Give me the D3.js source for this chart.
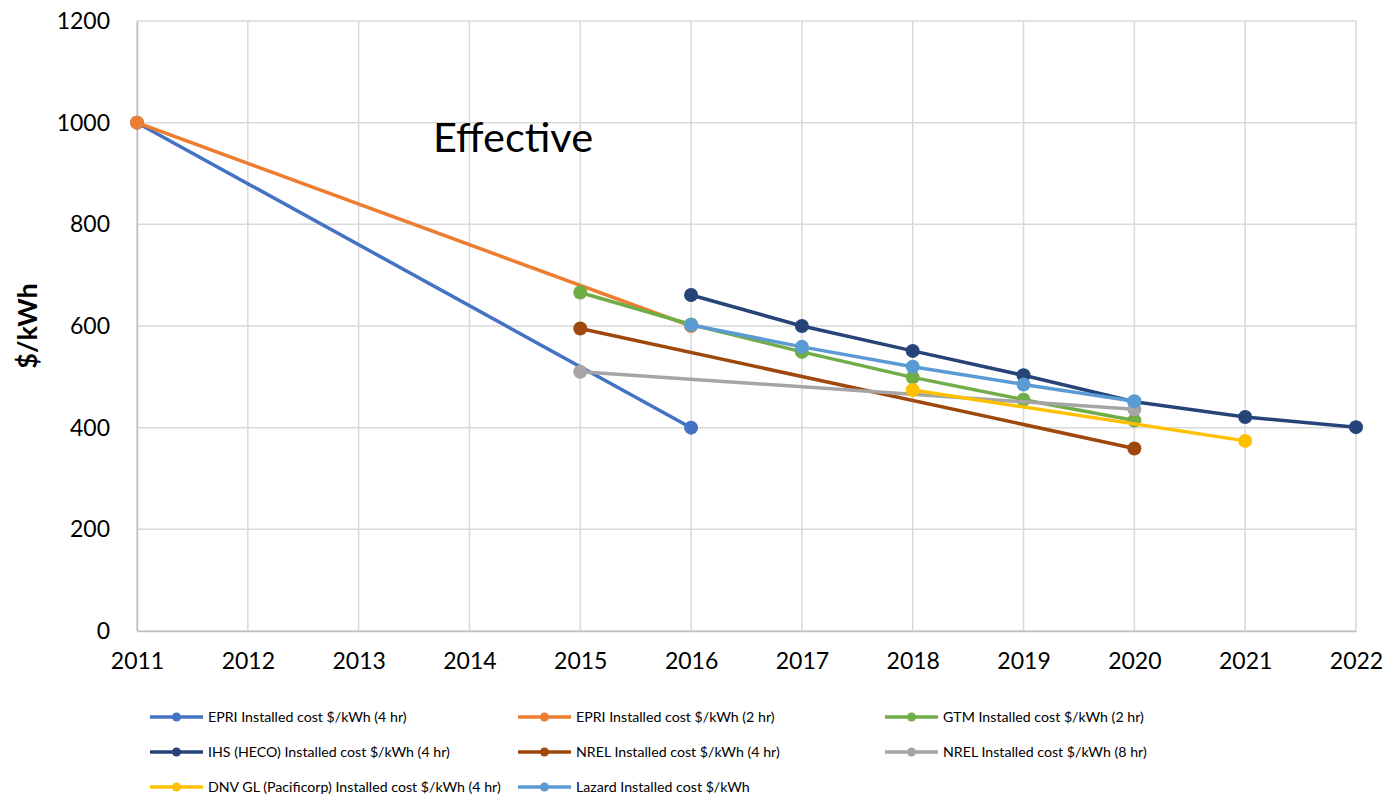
<!DOCTYPE html>
<html><head><meta charset="utf-8">
<script src="https://cdn.jsdelivr.net/npm/d3@7/dist/d3.min.js"></script>
<style>body{margin:0;background:#fff;} svg{display:block;}</style>
</head><body>
<svg id="chart" width="1386" height="797"></svg>
<script>
const years = [2011,2012,2013,2014,2015,2016,2017,2018,2019,2020,2021,2022];
const yTicks = [0,200,400,600,800,1000,1200];
const seriesNames = [
  "EPRI Installed cost $/kWh (4 hr)",
  "EPRI Installed cost $/kWh (2 hr)",
  "GTM Installed cost $/kWh (2 hr)",
  "IHS (HECO) Installed cost $/kWh (4 hr)",
  "NREL Installed cost $/kWh (4 hr)",
  "NREL Installed cost $/kWh (8 hr)",
  "DNV GL (Pacificorp) Installed cost $/kWh (4 hr)",
  "Lazard Installed cost $/kWh"
];
const seriesColors = ["#4472C4","#ED7D31","#70AD47","#264478","#9E480E","#A5A5A5","#FFC000","#5B9BD5"];
const epri4 = [[2011,1000],[2016,400]];
const epri2 = [[2011,1000],[2016,600]];
const gtm2 = [[2015,666],[2016,603],[2017,549],[2018,499],[2019,455],[2020,414]];
const ihs4 = [[2016,661],[2017,600],[2018,551],[2019,503],[2020,451],[2021,421],[2022,401]];
const nrel4 = [[2015,595],[2020,359]];
const nrel8 = [[2015,510],[2020,436]];
const dnv4 = [[2018,474],[2021,374]];
const lazard = [[2016,602],[2017,559],[2018,520],[2019,485],[2020,452]];
const seriesData = [epri4,epri2,gtm2,ihs4,nrel4,nrel8,dnv4,lazard];
const annotation = "Effective";
const yLabel = "$/kWh";

const svg = d3.select("#chart");
const font = "Lato, 'Open Sans', sans-serif";
const x = d3.scaleLinear().domain([2011,2022]).range([137,1356]);
const y = d3.scaleLinear().domain([0,1200]).range([631,21]);

// gridlines
const g = svg.append("g");
g.selectAll(".hg").data(yTicks).join("line")
  .attr("x1",x(2011)).attr("x2",x(2022)).attr("y1",d=>y(d)).attr("y2",d=>y(d))
  .attr("stroke","#D9D9D9").attr("stroke-width",1.5);
g.selectAll(".vg").data(years).join("line")
  .attr("x1",d=>x(d)).attr("x2",d=>x(d)).attr("y1",y(0)).attr("y2",y(1200))
  .attr("stroke","#D9D9D9").attr("stroke-width",1.5);

// axes
const xAxis = d3.axisBottom(x).tickValues(years).tickFormat(d3.format("d")).tickSize(0).tickPadding(22);
const xa = svg.append("g").attr("transform",`translate(0,${y(0)})`).call(xAxis);
xa.select(".domain").attr("stroke","#BFBFBF").attr("stroke-width",1.5);
xa.selectAll("text").attr("font-family",font).attr("font-size",23).attr("fill","#000");

const yAxis = d3.axisLeft(y).tickValues(yTicks).tickFormat(d3.format("d")).tickSize(0).tickPadding(27);
const ya = svg.append("g").attr("transform",`translate(${x(2011)},0)`).call(yAxis);
ya.select(".domain").attr("stroke","#BFBFBF").attr("stroke-width",1.5);
ya.selectAll("text").attr("font-family",font).attr("font-size",23).attr("fill","#000");

// y label
svg.append("text").attr("transform",`translate(37,326) rotate(-90)`)
  .attr("text-anchor","middle").attr("font-family",font).attr("font-weight","bold")
  .attr("font-size",27).text(yLabel);

// annotation
svg.append("text").attr("x",433).attr("y",152).attr("font-family",font)
  .attr("font-size",41.5).attr("fill","#000").text(annotation);

// lines
const line = d3.line().x(d=>x(d[0])).y(d=>y(d[1]));
seriesData.forEach((data,i)=>{
  const sg = svg.append("g");
  sg.append("path").datum(data).attr("d",line).attr("fill","none")
    .attr("stroke",seriesColors[i]).attr("stroke-width",3.5).attr("stroke-linejoin","round");
  sg.selectAll("circle").data(data).join("circle")
    .attr("cx",d=>x(d[0])).attr("cy",d=>y(d[1])).attr("r",7).attr("fill",seriesColors[i]);
});

// legend
const colX = [150,518,885];
const rowY = [717,752,787];
seriesNames.forEach((name,i)=>{
  const lx = colX[i%3], ly = rowY[Math.floor(i/3)];
  const lg = svg.append("g").attr("transform",`translate(${lx},${ly})`);
  lg.append("line").attr("x1",0).attr("x2",53).attr("y1",0).attr("y2",0)
    .attr("stroke",seriesColors[i]).attr("stroke-width",3.5);
  lg.append("circle").attr("cx",26.5).attr("cy",0).attr("r",4.5).attr("fill",seriesColors[i]);
  lg.append("text").attr("x",58).attr("y",5).attr("font-family",font).attr("font-size",14.2)
    .attr("fill","#000").text(name);
});
</script>
</body></html>
